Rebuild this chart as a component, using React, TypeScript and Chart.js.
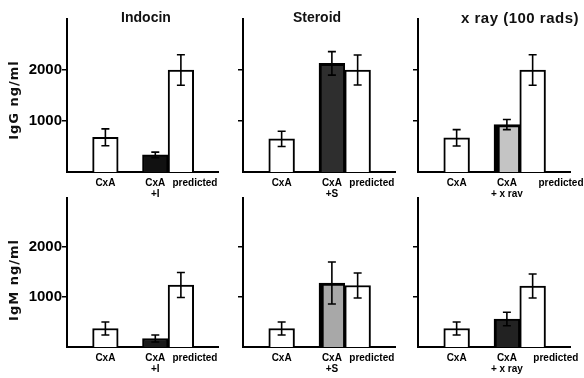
import React, { useEffect, useRef } from 'react';
import { Chart, registerables } from 'chart.js';

Chart.register(...registerables);

// ---------- data ----------
const panelTitles = ['Indocin', 'Steroid', 'x ray (100 rads)'];
const rowTitles = ['IgG ng/ml', 'IgM ng/ml'];

const indocinLabels = [['CxA'], ['CxA', '+I'], ['predicted']];
const steroidLabels = [['CxA'], ['CxA', '+S'], ['predicted']];
const xrayLabels = [['CxA'], ['CxA', '+ x ray'], ['predicted']];

const yTickValues = [1000, 2000];
const yMax = 3000;

// IgG (top row)
const igGIndocin = [680, 335, 2000];
const igGIndocinErr = [165, 55, 300];
const igGSteroid = [650, 2130, 2000];
const igGSteroidErr = [150, 230, 295];
const igGXray = [670, 930, 2000];
const igGXrayErr = [160, 100, 300];

// IgM (bottom row)
const igMIndocin = [370, 170, 1240];
const igMIndocinErr = [130, 70, 250];
const igMSteroid = [370, 1280, 1230];
const igMSteroidErr = [130, 420, 250];
const igMXray = [370, 560, 1220];
const igMXrayErr = [130, 135, 240];

// ---------- layout / style ----------
const FONT = '"Liberation Sans", Arial, sans-serif';
const barSlots = [1.5, 3.45, 4.45];
const X_MAX = 5.9;

type PanelCfg = {
  left: number; top: number; width: number; height: number;
  yAxisWidth: number; padTop: number; padRight: number; xAxisHeight: number;
  labels: string[][]; values: number[]; errors: number[];
  labelSlots: number[];
  fills: string[];
  borders: any[];
  showYTicks: boolean;
  title?: string; titleDx?: number; titleY?: number; titleSize?: number; titleSpacing?: string;
  yTitle?: string; yTitleY?: number;
};

const plainB = 2;

const colX = [
  { left: 0, width: 228, yAxisWidth: 67, padRight: 10 },
  { left: 228, width: 175, yAxisWidth: 15, padRight: 8 },
  { left: 403, width: 181, yAxisWidth: 15, padRight: 14 },
];
const rowY = [
  { top: 0, height: 197, padTop: 19, xAxisHeight: 25 },
  { top: 197, height: 181, padTop: 0, xAxisHeight: 31 },
];

const panels: PanelCfg[] = [
  {
    ...colX[0], ...rowY[0], labels: indocinLabels, values: igGIndocin, errors: igGIndocinErr,
    labelSlots: [1.5, 3.45, 5.0], fills: ['#fff', '#111', '#fff'], borders: [plainB, plainB, plainB],
    showYTicks: true, title: panelTitles[0], titleDx: 79, titleY: 18, titleSize: 14, titleSpacing: '0px',
    yTitle: rowTitles[0], yTitleY: 100,
  },
  {
    ...colX[1], ...rowY[0], labels: steroidLabels, values: igGSteroid, errors: igGSteroidErr,
    labelSlots: [1.5, 3.45, 5.0], fills: ['#fff', '#2e2e2e', '#fff'],
    borders: [plainB, { top: 3, left: 3, right: 2 }, plainB],
    showYTicks: false, title: panelTitles[1], titleDx: 74, titleY: 18, titleSize: 14, titleSpacing: '0px',
  },
  {
    ...colX[2], ...rowY[0], labels: xrayLabels, values: igGXray, errors: igGXrayErr,
    labelSlots: [1.5, 3.45, 5.55], fills: ['#fff', '#c4c4c4', '#fff'],
    borders: [plainB, { top: 3, left: 6, right: 2 }, plainB],
    showYTicks: false, title: panelTitles[2], titleDx: 102, titleY: 19, titleSize: 15, titleSpacing: '0.5px',
  },
  {
    ...colX[0], ...rowY[1], labels: indocinLabels, values: igMIndocin, errors: igMIndocinErr,
    labelSlots: [1.5, 3.45, 5.0], fills: ['#fff', '#1a1a1a', '#fff'], borders: [plainB, plainB, plainB],
    showYTicks: true, yTitle: rowTitles[1], yTitleY: 83,
  },
  {
    ...colX[1], ...rowY[1], labels: steroidLabels, values: igMSteroid, errors: igMSteroidErr,
    labelSlots: [1.5, 3.45, 5.0], fills: ['#fff', '#a8a8a8', '#fff'],
    borders: [plainB, { top: 3, left: 5, right: 2 }, plainB],
    showYTicks: false,
  },
  {
    ...colX[2], ...rowY[1], labels: xrayLabels, values: igMXray, errors: igMXrayErr,
    labelSlots: [1.5, 3.45, 5.35], fills: ['#fff', '#222', '#fff'],
    borders: [plainB, { top: 2, left: 3, right: 2 }, plainB],
    showYTicks: false,
  },
];

// ---------- plugins ----------
const errorBarPlugin = {
  id: 'errorBars',
  afterDatasetsDraw(chart: any, _args: any, opts: any) {
    const errs: number[] = opts.errors || [];
    const ctx = chart.ctx;
    const yScale = chart.scales.y;
    const meta = chart.getDatasetMeta(0);
    const data = chart.data.datasets[0].data as any[];
    ctx.save();
    ctx.strokeStyle = '#000';
    ctx.lineWidth = 1.6;
    meta.data.forEach((bar: any, i: number) => {
      const v = data[i].y;
      const e = errs[i];
      const x = bar.x;
      const yt = yScale.getPixelForValue(v + e);
      const yb = yScale.getPixelForValue(v - e);
      ctx.beginPath();
      ctx.moveTo(x, yt); ctx.lineTo(x, yb);
      ctx.moveTo(x - 4, yt); ctx.lineTo(x + 4, yt);
      ctx.moveTo(x - 4, yb); ctx.lineTo(x + 4, yb);
      ctx.stroke();
    });
    ctx.restore();
  },
};

const textPlugin = {
  id: 'panelText',
  afterDraw(chart: any, _args: any, opts: any) {
    const ctx = chart.ctx;
    const area = chart.chartArea;
    if (opts.title) {
      ctx.save();
      ctx.font = `bold ${opts.titleSize}px ${FONT}`;
      (ctx as any).letterSpacing = opts.titleSpacing || '0px';
      ctx.textAlign = 'center';
      ctx.textBaseline = 'middle';
      ctx.fillStyle = '#111';
      ctx.fillText(opts.title, area.left + opts.titleDx, opts.titleY);
      ctx.restore();
    }
    if (opts.yTitle) {
      ctx.save();
      ctx.font = `bold 13px "DejaVu Sans", sans-serif`;
      (ctx as any).letterSpacing = '1px';
      ctx.translate(15, opts.yTitleY);
      ctx.rotate(-Math.PI / 2);
      ctx.textAlign = 'center';
      ctx.textBaseline = 'middle';
      ctx.fillStyle = '#111';
      ctx.fillText(opts.yTitle, 0, 0);
      ctx.restore();
    }
  },
};

function Panel({ cfg }: { cfg: PanelCfg }) {
  const ref = useRef<HTMLCanvasElement>(null);
  useEffect(() => {
    const chart = new Chart(ref.current as HTMLCanvasElement, {
      type: 'bar',
      data: {
        datasets: [
          {
            data: cfg.values.map((y, i) => ({ x: barSlots[i], y })),
            backgroundColor: cfg.fills,
            borderColor: '#000',
            borderWidth: (c: any) => cfg.borders[c.dataIndex],
            categoryPercentage: 1,
            barPercentage: 1,
          } as any,
        ],
      },
      plugins: [errorBarPlugin, textPlugin],
      options: {
        animation: false,
        responsive: false,
        events: [],
        layout: { padding: { top: cfg.padTop, right: cfg.padRight, bottom: 0, left: 0 } },
        plugins: {
          legend: { display: false },
          tooltip: { enabled: false },
          errorBars: { errors: cfg.errors },
          panelText: {
            title: cfg.title, titleDx: cfg.titleDx, titleY: cfg.titleY, titleSize: cfg.titleSize,
            titleSpacing: cfg.titleSpacing, yTitle: cfg.yTitle, yTitleY: cfg.yTitleY,
          },
        } as any,
        scales: {
          x: {
            type: 'linear',
            min: 0,
            max: X_MAX,
            offset: false,
            z: 1,
            grid: { display: false, drawTicks: false, offset: false },
            border: { display: true, color: '#000', width: 2 },
            ticks: {
              autoSkip: false,
              maxRotation: 0,
              minRotation: 0,
              padding: 6,
              color: '#000',
              font: { family: FONT, size: 10, weight: 'bold', lineHeight: 1.1 },
              callback: (_v: any, i: number) => cfg.labels[i],
            },
            afterBuildTicks: (s: any) => {
              s.ticks = cfg.labelSlots.map((value) => ({ value }));
            },
            afterFit: (s: any) => {
              s.height = cfg.xAxisHeight;
              s.paddingLeft = 0;
              s.paddingRight = 0;
            },
          } as any,
          y: {
            min: 0,
            max: yMax,
            z: 1,
            grid: { display: true, drawOnChartArea: false, drawTicks: true, tickLength: 5, color: '#000', lineWidth: 1.5 },
            border: { display: true, color: '#000', width: 2 },
            ticks: {
              display: cfg.showYTicks,
              padding: 0,
              color: '#000',
              font: { family: FONT, size: 15, weight: 'bold' },
              callback: (v: any) => String(v),
            },
            afterBuildTicks: (s: any) => {
              s.ticks = yTickValues.map((value) => ({ value }));
            },
            afterFit: (s: any) => {
              s.width = cfg.yAxisWidth;
              s.paddingTop = 0;
              s.paddingBottom = 0;
            },
          } as any,
        },
      },
    });
    return () => chart.destroy();
  }, []);
  return (
    <canvas
      ref={ref}
      width={cfg.width}
      height={cfg.height}
      style={{ position: 'absolute', left: cfg.left, top: cfg.top, width: cfg.width, height: cfg.height }}
    />
  );
}

export default function App() {
  return (
    <div style={{ position: 'absolute', left: 0, top: 0, width: 584, height: 378, background: '#fff', overflow: 'hidden' }}>
      {panels.map((p, i) => (
        <Panel key={i} cfg={p} />
      ))}
    </div>
  );
}
